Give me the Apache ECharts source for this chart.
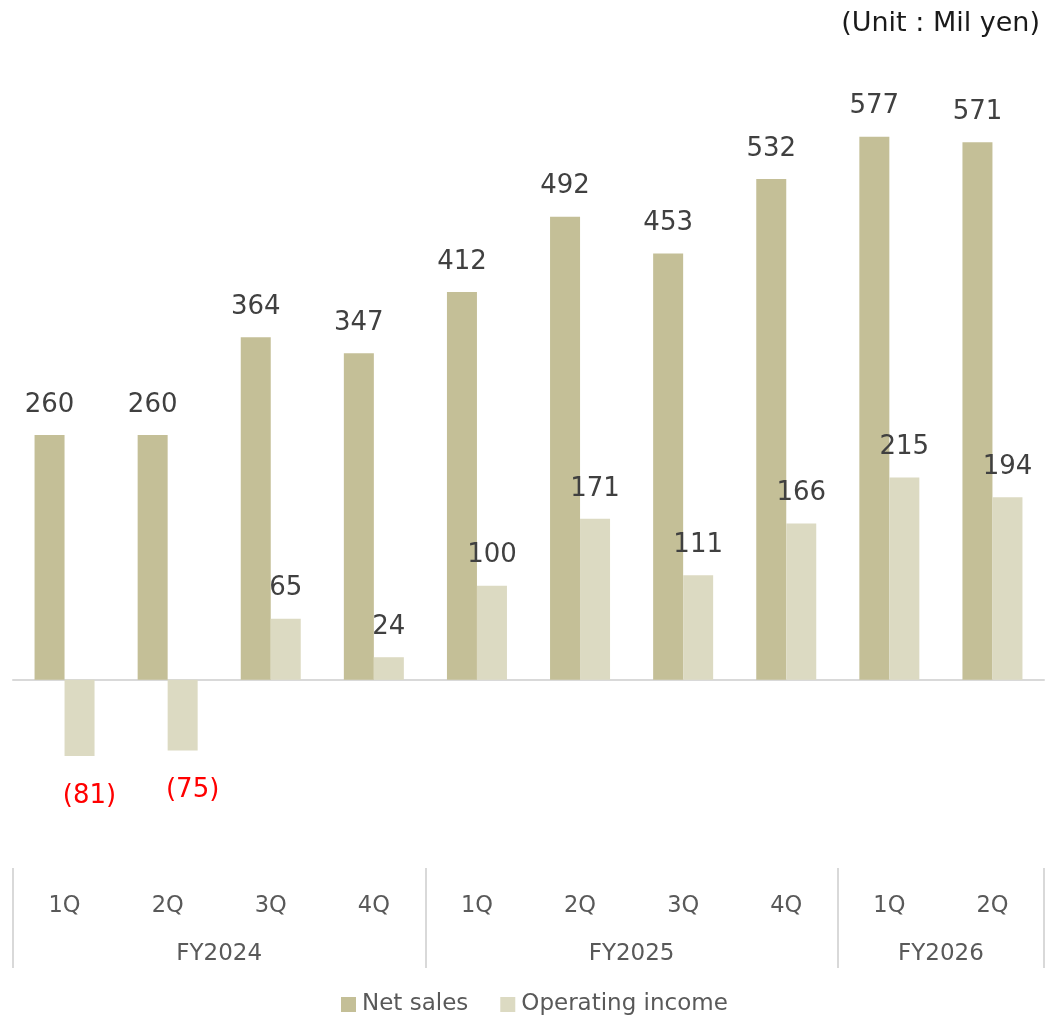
<!DOCTYPE html>
<html>
<head>
<meta charset="utf-8">
<script src="https://cdn.jsdelivr.net/npm/echarts@6/dist/echarts.min.js"></script>
<style>
html,body{margin:0;padding:0;background:#fff;}
#chart{width:1048px;height:1019px;}
</style>
</head>
<body>
<div id="chart"></div>
<script>
const quarters = ['1Q','2Q','3Q','4Q','1Q','2Q','3Q','4Q','1Q','2Q'];
const fiscalYears = ['FY2024','FY2025','FY2026'];
const yearSpans = [4, 4, 2];
const netSales = [260, 260, 364, 347, 412, 492, 453, 532, 577, 571];
const operatingIncome = [-81, -75, 65, 24, 100, 171, 111, 166, 215, 194];

const FONT = 'DejaVu Sans';
const yearCenters = [];
const yearBounds = [0];
let acc = 0;
yearSpans.forEach(s => { yearCenters.push(acc + s / 2); acc += s; yearBounds.push(acc); });

const chart = echarts.init(document.getElementById('chart'));
const fmt = v => v < 0 ? '(' + Math.abs(v) + ')' : String(v);

chart.setOption({
  animation: false,
  textStyle: { fontFamily: FONT },
  title: {
    text: '(Unit : Mil yen)',
    right: 3, top: 5,
    textStyle: { fontFamily: FONT, fontSize: 27, fontWeight: 'normal', color: '#1a1a1a' }
  },
  legend: {
    top: 988, left: 336,
    itemWidth: 15, itemHeight: 15, itemGap: 32,
    icon: 'rect',
    textStyle: { fontFamily: FONT, fontSize: 23, color: '#595959', padding: [0, 0, 0, 1] },
    data: ['Net sales', 'Operating income']
  },
  grid: { left: 13, right: 4, top: 68, bottom: 198 },
  xAxis: [
    {
      type: 'category', data: quarters,
      axisLine: { onZero: true, lineStyle: { color: '#d9d9d9', width: 2 } },
      axisTick: { show: false }, axisLabel: { show: false }
    },
    {
      type: 'category', data: quarters, position: 'bottom', offset: 60,
      axisLine: { show: false }, axisTick: { show: false },
      axisLabel: { margin: 14, fontFamily: FONT, fontSize: 22.5, color: '#595959' }
    },
    {
      type: 'value', min: 0, max: quarters.length, position: 'bottom', offset: 47,
      splitLine: { show: false },
      axisLine: { show: false },
      axisTick: { show: true, customValues: yearBounds, length: 100, lineStyle: { color: '#d9d9d9', width: 2 } },
      axisLabel: {
        customValues: yearCenters, margin: 75,
        fontFamily: FONT, fontSize: 23, color: '#595959',
        formatter: v => fiscalYears[yearCenters.indexOf(v)] || ''
      }
    }
  ],
  yAxis: {
    type: 'value', min: -150, max: 650, show: false,
    splitLine: { show: false }
  },
  series: [
    {
      name: 'Net sales', type: 'bar', xAxisIndex: 0,
      data: netSales, barWidth: 30, barGap: '0%',
      itemStyle: { color: '#c4bf97' },
      label: { show: true, position: 'top', distance: 17, fontFamily: FONT, fontSize: 26, color: '#404040', formatter: p => fmt(p.value) }
    },
    {
      name: 'Operating income', type: 'bar', xAxisIndex: 0,
      data: operatingIncome.map(v => v < 0 ? {
        value: v,
        label: { position: 'bottom', distance: 27, color: '#ff0000', offset: [10, 0] }
      } : v),
      barWidth: 30,
      itemStyle: { color: '#dcdac2' },
      label: { show: true, position: 'top', distance: 17, fontFamily: FONT, fontSize: 26, color: '#404040', formatter: p => fmt(p.value) }
    }
  ]
});
</script>
</body>
</html>
